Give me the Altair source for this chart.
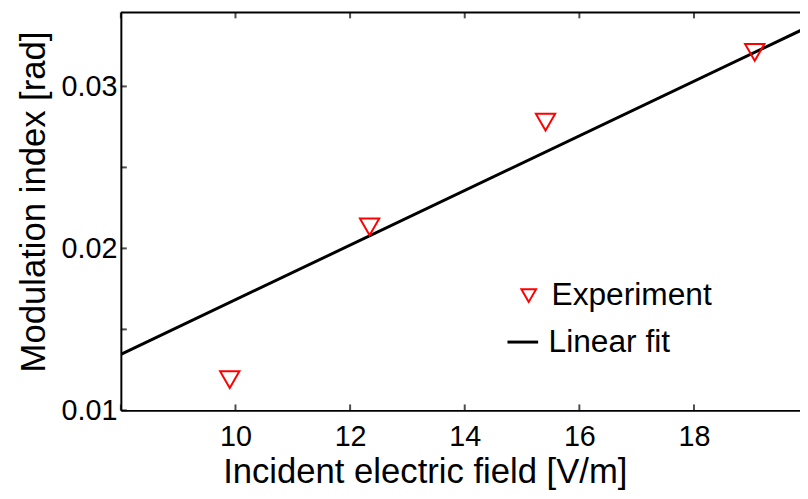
import altair as alt
import pandas as pd

# ---- data ----
exp_field = [9.90, 12.34, 15.41, 19.06]
exp_index = [0.0119, 0.02133, 0.02779, 0.0321]
fit_field = [8.0, 20.0]
fit_index = [0.01346, 0.03369]
x_tick_values = [8, 10, 12, 14, 16, 18]
x_label_values = [10, 12, 14, 16, 18]
y_tick_values = [0.01, 0.015, 0.02, 0.025, 0.03]
y_label_values = [0.01, 0.02, 0.03]
x_domain = [8, 19.85]
y_domain = [0.01, 0.03457]

exp_df = pd.DataFrame({"field": exp_field, "mod": exp_index, "series": ["Experiment"] * len(exp_field)})
fit_df = pd.DataFrame({"field": fit_field, "mod": fit_index, "fit": ["Linear fit"] * len(fit_field)})
xt_df = pd.DataFrame({"field": x_tick_values})
yt_df = pd.DataFrame({"mod": y_tick_values})
one_df = pd.DataFrame({"k": [0]})

FONT = "Liberation Sans"
xs = alt.Scale(domain=x_domain, nice=False, zero=False)
ys = alt.Scale(domain=y_domain, nice=False, zero=False)

x_enc = alt.X("field:Q", scale=xs,
              axis=alt.Axis(values=x_label_values, title="Incident electric field [V/m]",
                            ticks=False, format="d", labelPadding=12, titlePadding=4,
                            titleX=307, titleAlign="center", grid=False))
y_enc = alt.Y("mod:Q", scale=ys,
              axis=alt.Axis(values=y_label_values, format=".2f", title="Modulation index [rad]",
                            ticks=False, labelPadding=4, titlePadding=10, titleY=191,
                            titleAlign="center", grid=False))

fit = alt.Chart(fit_df).mark_line(clip=True, strokeWidth=3, color="black").encode(
    x=x_enc, y=y_enc,
    color=alt.Color("fit:N", scale=alt.Scale(domain=["Linear fit"], range=["black"]),
                    legend=alt.Legend(title=None, orient="none", legendX=389, legendY=316,
                                      symbolType="stroke", symbolSize=961, symbolStrokeWidth=3,
                                      symbolStrokeColor="black", labelOffset=9, padding=0,
                                      labelLimit=400)),
)

pts = alt.Chart(exp_df).mark_point(filled=False, strokeWidth=2, size=380, color="red", opacity=1).encode(
    x="field:Q", y="mod:Q",
    shape=alt.Shape("series:N", scale=alt.Scale(domain=["Experiment"], range=["triangle-down"]),
                    legend=alt.Legend(title=None, orient="none", legendX=396, legendY=270,
                                      symbolSize=220, symbolStrokeWidth=2, symbolStrokeColor="red",
                                      symbolFillColor="transparent", labelOffset=7, padding=0,
                                      labelLimit=400)),
)

xt_bottom = alt.Chart(xt_df).mark_tick(orient="vertical", size=6, thickness=2, color="black", yOffset=-3).encode(
    x="field:Q", y=alt.datum(y_domain[0]))
xt_top = alt.Chart(xt_df).mark_tick(orient="vertical", size=6, thickness=2, color="black", yOffset=3).encode(
    x="field:Q", y=alt.datum(y_domain[1]))
yt_left = alt.Chart(yt_df).mark_tick(orient="horizontal", size=6, thickness=2, color="black", xOffset=3).encode(
    y="mod:Q", x=alt.datum(x_domain[0]))
top_border = alt.Chart(one_df).mark_rule(strokeWidth=2, color="black").encode(
    x=alt.datum(x_domain[0]), x2=alt.datum(x_domain[1]), y=alt.datum(y_domain[1]))

chart = alt.layer(fit, pts, xt_bottom, xt_top, yt_left, top_border).resolve_legend(
    color="independent", shape="independent"
).properties(
    width=686, height=402,
    autosize=alt.AutoSizeParams(type="none"),
    padding={"left": 114, "top": 2, "right": 0, "bottom": 79},
).configure_view(stroke=None).configure_axis(
    domainColor="black", domainWidth=2,
    labelFont=FONT, labelFontSize=29, labelColor="black",
    titleFont=FONT, titleFontSize=35, titleFontWeight="normal", titleColor="black",
).configure_legend(
    labelFont=FONT, labelFontSize=32, labelColor="black",
)

chart.save("out.html", embed_options={"renderer": "svg", "actions": False})
